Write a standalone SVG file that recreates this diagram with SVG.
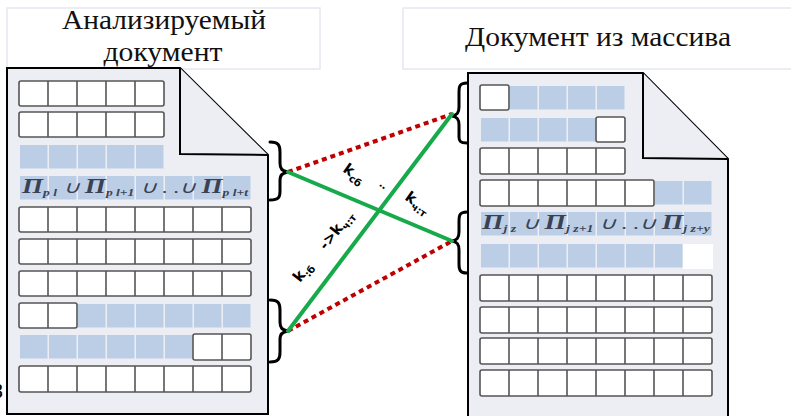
<svg xmlns="http://www.w3.org/2000/svg" width="791" height="416" viewBox="0 0 791 416">
<style>
.hdr{fill:#fff;stroke:#e4e9f1;stroke-width:1.5}
.ht{font-family:"Liberation Serif",serif;font-size:28px;fill:#111;text-anchor:middle}
.doc{fill:#eceef3;stroke:#000;stroke-width:2;stroke-linejoin:miter}
.row{fill:#fff;stroke:#555;stroke-width:1.6}
.dv{stroke:#555;stroke-width:1.6;fill:none}
.bl{fill:#bccee6}
.fx{font-family:"Liberation Serif",serif;font-style:italic;fill:#3a4152}
.pi{font-size:20px;font-weight:bold}
.sb{font-size:10px;font-weight:bold}
.br{fill:none;stroke:#000;stroke-width:3;stroke-linecap:round}
.g{stroke:#16aa4b;stroke-width:4;stroke-linecap:round}
.r{stroke:#c00000;stroke-width:4;stroke-dasharray:5 4}
.lb{font-family:"DejaVu Sans",sans-serif;font-weight:bold;fill:#000}
</style>
<defs>
<rect id="bc" class="bl" x="0" y="0" width="27.5" height="23.5"/>
</defs>

<g id="header-left">
<rect class="hdr" x="7" y="8" width="313" height="61"/>
<text class="ht" x="164" y="29" textLength="204" lengthAdjust="spacingAndGlyphs">Анализируемый</text>
<text class="ht" x="163" y="61" textLength="119" lengthAdjust="spacingAndGlyphs">документ</text>
</g>
<g id="header-right">
<rect class="hdr" x="403" y="8" width="400" height="61"/>
<text class="ht" x="598" y="46" textLength="266" lengthAdjust="spacingAndGlyphs">Документ из массива</text>
</g>

<g id="doc-left">
<path class="doc" d="M7,68 L180,68 L268,155 L268,414 L7,414 Z"/>
<path class="doc" d="M180,68 L180,154 L268,155"/>
<rect class="row" x="19" y="81" width="145" height="25" rx="2"/>
<path class="dv" d="M48,81v25M77,81v25M106,81v25M135,81v25"/>
<rect class="row" x="19" y="112" width="145" height="25" rx="2"/>
<path class="dv" d="M48,112v25M77,112v25M106,112v25M135,112v25"/>
<use href="#bc" x="20" y="145"/><use href="#bc" x="49" y="145"/><use href="#bc" x="78" y="145"/><use href="#bc" x="107" y="145"/><use href="#bc" x="136" y="145"/>
<use href="#bc" x="20" y="176"/><use href="#bc" x="49" y="176"/><use href="#bc" x="78" y="176"/><use href="#bc" x="107" y="176"/><use href="#bc" x="136" y="176"/><use href="#bc" x="165" y="176"/><use href="#bc" x="194" y="176"/><use href="#bc" x="223" y="176"/>
<text class="fx" x="22" y="193" font-size="17" textLength="226" lengthAdjust="spacingAndGlyphs"><tspan class="pi">Π</tspan><tspan class="sb" dy="3">p l</tspan><tspan dy="-3"> ∪ </tspan><tspan class="pi">Π</tspan><tspan class="sb" dy="3">p l+1</tspan><tspan dy="-3"> ∪ . .∪ </tspan><tspan class="pi">Π</tspan><tspan class="sb" dy="3">p l+t</tspan></text>
<rect class="row" x="19" y="207" width="232" height="25" rx="2"/>
<path class="dv" d="M48,207v25M77,207v25M106,207v25M135,207v25M164,207v25M193,207v25M222,207v25"/>
<rect class="row" x="19" y="239" width="232" height="25" rx="2"/>
<path class="dv" d="M48,239v25M77,239v25M106,239v25M135,239v25M164,239v25M193,239v25M222,239v25"/>
<rect class="row" x="19" y="271" width="232" height="25" rx="2"/>
<path class="dv" d="M48,271v25M77,271v25M106,271v25M135,271v25M164,271v25M193,271v25M222,271v25"/>
<rect class="row" x="19" y="303" width="58" height="25" rx="2"/>
<path class="dv" d="M48,303v25"/>
<use href="#bc" x="78" y="304"/><use href="#bc" x="107" y="304"/><use href="#bc" x="136" y="304"/><use href="#bc" x="165" y="304"/><use href="#bc" x="194" y="304"/><use href="#bc" x="223" y="304"/>
<use href="#bc" x="20" y="335"/><use href="#bc" x="49" y="335"/><use href="#bc" x="78" y="335"/><use href="#bc" x="107" y="335"/><use href="#bc" x="136" y="335"/><use href="#bc" x="165" y="335"/>
<rect class="row" x="193" y="334" width="58" height="26" rx="2"/>
<path class="dv" d="M222,334v26"/>
<rect class="row" x="19" y="366" width="232" height="26" rx="2"/>
<path class="dv" d="M48,366v26M77,366v26M106,366v26M135,366v26M164,366v26M193,366v26M222,366v26"/>
</g>

<g id="doc-right">
<path class="doc" d="M468,73 L643,73 L728,159 L728,420 L468,420 Z"/>
<path class="doc" d="M643,73 L643,158 L728,159"/>
<rect class="row" x="480" y="85" width="29" height="25" rx="2"/>
<use href="#bc" x="510" y="86"/><use href="#bc" x="539" y="86"/><use href="#bc" x="568" y="86"/><use href="#bc" x="597" y="86"/>
<use href="#bc" x="481" y="118"/><use href="#bc" x="510" y="118"/><use href="#bc" x="539" y="118"/><use href="#bc" x="568" y="118"/>
<rect class="row" x="596" y="117" width="29" height="25" rx="2"/>
<rect class="row" x="480" y="148" width="145" height="26" rx="2"/>
<path class="dv" d="M509,148v26M538,148v26M567,148v26M596,148v26"/>
<rect class="row" x="480" y="180" width="174" height="26" rx="2"/>
<path class="dv" d="M509,180v26M538,180v26M567,180v26M596,180v26M625,180v26"/>
<use href="#bc" x="655" y="181"/><use href="#bc" x="684" y="181"/>
<use href="#bc" x="481" y="212"/><use href="#bc" x="510" y="212"/><use href="#bc" x="539" y="212"/><use href="#bc" x="568" y="212"/><use href="#bc" x="597" y="212"/><use href="#bc" x="626" y="212"/><use href="#bc" x="655" y="212"/><use href="#bc" x="684" y="212"/>
<text class="fx" x="482" y="229" font-size="17" textLength="228" lengthAdjust="spacingAndGlyphs"><tspan class="pi">Π</tspan><tspan class="sb" dy="3">j z</tspan><tspan dy="-3"> ∪ </tspan><tspan class="pi">Π</tspan><tspan class="sb" dy="3">j z+1</tspan><tspan dy="-3"> ∪ . .∪ </tspan><tspan class="pi">Π</tspan><tspan class="sb" dy="3">j z+y</tspan></text>
<use href="#bc" x="481" y="244"/><use href="#bc" x="510" y="244"/><use href="#bc" x="539" y="244"/><use href="#bc" x="568" y="244"/><use href="#bc" x="597" y="244"/><use href="#bc" x="626" y="244"/><use href="#bc" x="655" y="244"/>
<rect x="683" y="244" width="30" height="25" fill="#fff"/>
<rect class="row" x="480" y="275" width="232" height="26" rx="2"/>
<path class="dv" d="M509,275v26M538,275v26M567,275v26M596,275v26M625,275v26M654,275v26M683,275v26"/>
<rect class="row" x="480" y="307" width="232" height="26" rx="2"/>
<path class="dv" d="M509,307v26M538,307v26M567,307v26M596,307v26M625,307v26M654,307v26M683,307v26"/>
<rect class="row" x="480" y="338" width="232" height="26" rx="2"/>
<path class="dv" d="M509,338v26M538,338v26M567,338v26M596,338v26M625,338v26M654,338v26M683,338v26"/>
<rect class="row" x="480" y="370" width="232" height="26" rx="2"/>
<path class="dv" d="M509,370v26M538,370v26M567,370v26M596,370v26M625,370v26M654,370v26M683,370v26"/>
</g>

<g id="braces">
<path class="br" d="M270,142 C279,142 280,146 280,152 L280,163 C280,169 282,171 288,172 C282,173 280,175 280,181 L280,191 C280,197 279,200 270,200"/>
<path class="br" d="M270,300 C279,300 280,304 280,310 L280,322 C280,328 282,330 288,331 C282,332 280,334 280,340 L280,352 C280,358 279,362 270,362"/>
<path class="br" d="M467,83 C459,83 459,87 459,93 L459,107 C459,113 457,115 452,116 C457,117 459,119 459,125 L459,137 C459,141 460,143 467,143"/>
<path class="br" d="M467,212 C459,212 459,216 459,222 L459,232 C459,238 457,240 452,241 C457,242 459,244 459,250 L459,264 C459,270 460,273 467,273"/>
</g>

<g id="connectors">
<line class="r" x1="288" y1="172" x2="452" y2="114"/>
<line class="r" x1="288" y1="331" x2="452" y2="241"/>
<line class="g" x1="288" y1="172" x2="452" y2="241"/>
<line class="g" x1="288" y1="331" x2="452" y2="114"/>
<text class="lb" font-size="15" transform="translate(342,171) rotate(35)">k<tspan font-size="10" dy="4">сб</tspan></text>
<text class="lb" font-size="15" transform="translate(404,199) rotate(35)">k<tspan font-size="10" dy="4">ч:т</tspan></text>
<text class="lb" font-size="15" transform="translate(300,283) rotate(-52)">k<tspan font-size="10" dy="4">:б</tspan></text>
<text class="lb" font-size="15" transform="translate(326,251) rotate(-52)">-&gt;k<tspan font-size="10" dy="4">ч:т</tspan></text>
<text class="lb" font-size="10" transform="translate(383,190) rotate(-52)">:</text>
</g>
<text x="-7" y="398" font-family="Liberation Serif,serif" font-size="20" fill="#000">З</text>
</svg>
